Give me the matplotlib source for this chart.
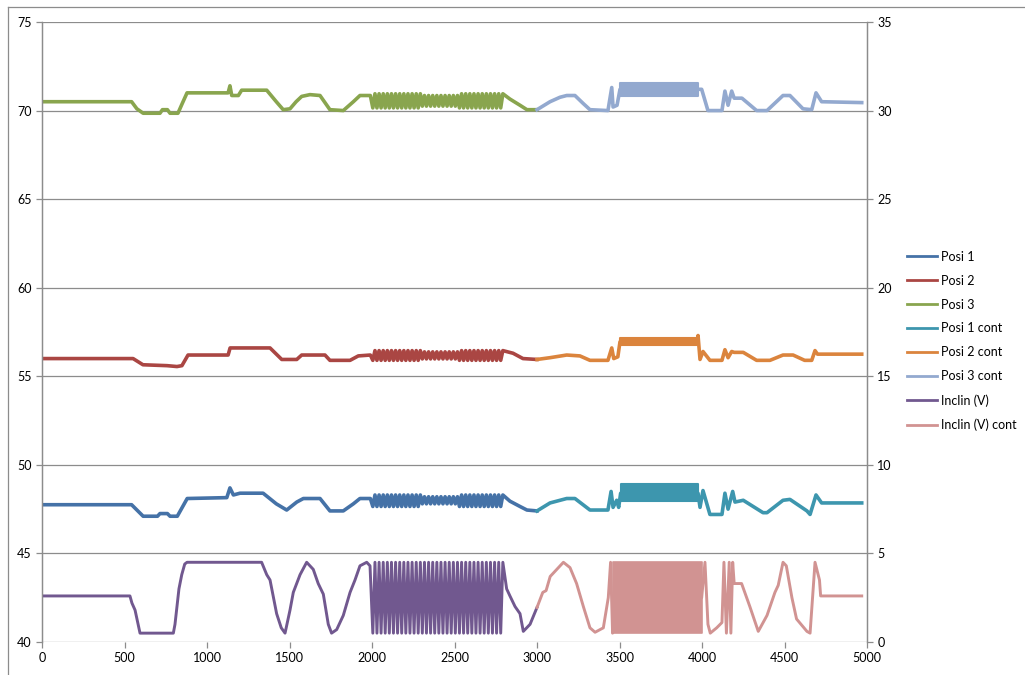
import matplotlib
matplotlib.use('Agg')
import matplotlib.pyplot as plt
from matplotlib.lines import Line2D

plt.rcParams['font.family'] = ['Lato', 'DejaVu Sans']

# ---- shared oscillation section (2000-2800) ----
osc_trough_x = [2005, 2030, 2055, 2080, 2105, 2130, 2155, 2180, 2205, 2230, 2255,
                2280, 2305, 2330, 2355, 2380, 2405, 2430, 2455, 2480, 2505, 2530,
                2555, 2580, 2605, 2630, 2655, 2680, 2705, 2730, 2755, 2780]
osc_peak_x = [2018, 2043, 2068, 2093, 2118, 2143, 2168, 2193, 2218, 2243, 2268,
              2293, 2318, 2343, 2368, 2393, 2418, 2443, 2468, 2493, 2518, 2543,
              2568, 2593, 2618, 2643, 2668, 2693, 2718, 2743, 2768, 2793]
# 1 = the smaller swings in the middle of the section
osc_small = [0, 0, 0, 0, 0, 0, 0, 0, 0, 0, 0, 0, 1, 1, 1, 1, 1, 1, 1, 1, 1, 0,
             0, 0, 0, 0, 0, 0, 0, 0, 0, 0]

# (full lo, full hi, small lo, small hi)
posi1_osc = (47.65, 48.3, 47.8, 48.2)
posi2_osc = (55.9, 56.45, 55.98, 56.38)
posi3_osc = (70.15, 70.95, 70.25, 70.85)
inclin_osc = (0.5, 4.5, 0.5, 4.5)

# ---- Posi 1 ----
posi1_pre_x = [0, 543, 613, 700, 715, 760, 776, 820, 850, 880, 1120, 1139, 1160, 1200,
               1340, 1420, 1483, 1544, 1584, 1685, 1745, 1826, 1887, 1927, 1990]
posi1_pre_y = [47.75, 47.75, 47.1, 47.1, 47.25, 47.25, 47.1, 47.1, 47.6, 48.1, 48.15, 48.7,
               48.3, 48.4, 48.4, 47.8, 47.45, 47.9, 48.1, 48.1, 47.4, 47.4, 47.8, 48.1, 48.1]
posi1_post_x = [2836, 2897, 2939, 3000]
posi1_post_y = [47.95, 47.65, 47.45, 47.4]
posi1c_x = [3000, 3079, 3180, 3230, 3321, 3430, 3449, 3461, 3483, 3495, 3507, 3976, 3988,
            4006, 4048, 4121, 4139, 4158, 4186, 4200, 4250, 4370, 4394, 4491, 4533, 4636,
            4655, 4691, 4725, 4968]
posi1c_y = [47.4, 47.85, 48.1, 48.1, 47.45, 47.45, 48.5, 47.6, 48.0, 47.6, 48.4, 48.4, 47.6,
            48.55, 47.2, 47.2, 48.4, 47.5, 48.5, 47.9, 48.0, 47.3, 47.3, 48.0, 48.05, 47.4,
            47.2, 48.3, 47.85, 47.85]
posi1c_band = (3507, 3976, 47.95, 48.9)

# ---- Posi 2 ----
posi2_pre_x = [0, 552, 612, 758, 818, 848, 885, 1128, 1140, 1382, 1453, 1544, 1574, 1715,
               1745, 1867, 1917, 1990]
posi2_pre_y = [56.0, 56.0, 55.65, 55.6, 55.55, 55.6, 56.2, 56.2, 56.6, 56.6, 55.95, 55.95,
               56.2, 56.2, 55.9, 55.9, 56.15, 56.2]
posi2_post_x = [2855, 2915, 3000]
posi2_post_y = [56.3, 56.0, 55.95]
posi2c_x = [3000, 3079, 3180, 3260, 3321, 3430, 3453, 3465, 3490, 3503, 3970, 3976, 3988,
            4006, 4048, 4121, 4139, 4158, 4180, 4195, 4250, 4331, 4412, 4491, 4552, 4622,
            4665, 4685, 4700, 4968]
posi2c_y = [55.95, 56.05, 56.2, 56.15, 55.9, 55.9, 56.6, 56.0, 56.1, 56.95, 56.95, 57.3,
            55.95, 56.4, 55.9, 55.9, 56.5, 56.05, 56.4, 56.35, 56.35, 55.9, 55.9, 56.2,
            56.2, 55.9, 55.9, 56.45, 56.25, 56.25]
posi2c_band = (3503, 3970, 56.75, 57.15)

# ---- Posi 3 ----
posi3_pre_x = [0, 543, 575, 613, 715, 730, 760, 776, 824, 850, 879, 1128, 1139, 1150, 1190,
               1210, 1362, 1420, 1462, 1503, 1540, 1574, 1624, 1685, 1745, 1826, 1887, 1927,
               1990]
posi3_pre_y = [70.5, 70.5, 70.1, 69.85, 69.85, 70.05, 70.05, 69.85, 69.85, 70.4, 71.0, 71.0,
               71.4, 70.85, 70.85, 71.15, 71.15, 70.5, 70.05, 70.1, 70.5, 70.8, 70.9, 70.85,
               70.05, 70.0, 70.5, 70.85, 70.85]
posi3_post_x = [2836, 2897, 2939, 3000]
posi3_post_y = [70.65, 70.3, 70.05, 70.05]
posi3c_x = [3000, 3079, 3139, 3180, 3230, 3280, 3321, 3430, 3453, 3461, 3485, 3503, 3976,
            3998, 4036, 4121, 4139, 4158, 4180, 4195, 4242, 4331, 4394, 4491, 4533, 4612,
            4665, 4691, 4725, 4968]
posi3c_y = [70.05, 70.5, 70.75, 70.85, 70.85, 70.4, 70.05, 70.0, 71.3, 70.2, 70.3, 71.2,
            71.2, 71.2, 70.0, 70.0, 71.1, 70.3, 71.1, 70.7, 70.7, 70.0, 70.0, 70.85, 70.85,
            70.1, 70.05, 71.0, 70.5, 70.45]
posi3c_band = (3503, 3976, 70.8, 71.55)

# ---- Inclin (V), right axis ----
inclin_pre_x = [0, 533, 545, 564, 594, 796, 806, 830, 847, 865, 879, 1331, 1362, 1382, 1422,
                1450, 1473, 1503, 1523, 1564, 1604, 1644, 1674, 1705, 1735, 1755, 1786, 1826,
                1867, 1897, 1927, 1968, 1988]
inclin_pre_y = [2.6, 2.6, 2.2, 1.8, 0.5, 0.5, 1.0, 3.0, 3.8, 4.4, 4.5, 4.5, 3.8, 3.5, 1.6,
                0.8, 0.5, 1.8, 2.8, 3.8, 4.5, 4.1, 3.3, 2.7, 1.0, 0.5, 0.7, 1.5, 2.8, 3.5,
                4.3, 4.5, 4.3]
inclin_post_x = [2816, 2836, 2867, 2897, 2917, 2958, 3000]
inclin_post_y = [3.0, 2.6, 2.0, 1.6, 0.6, 1.0, 1.95]
inclinc_x = [3000, 3035, 3055, 3080, 3120, 3160, 3200, 3240, 3281, 3321, 3352, 3402, 3432,
             3446, 3458, 3463, 3998, 4018, 4036, 4050, 4089, 4121, 4133, 4148, 4165, 4175,
             4186, 4195, 4240, 4290, 4341, 4394, 4442, 4462, 4491, 4511, 4545, 4573, 4636,
             4655, 4685, 4712, 4719, 4968]
inclinc_y = [1.95, 2.8, 2.9, 3.7, 4.1, 4.5, 4.2, 3.3, 2.0, 0.8, 0.55, 0.8, 2.5, 4.5, 0.5,
             2.5, 2.5, 4.5, 1.0, 0.5, 0.8, 1.1, 4.5, 0.5, 4.5, 0.5, 4.5, 3.3, 3.3, 2.0, 0.6,
             1.5, 2.8, 3.2, 4.5, 4.3, 2.5, 1.3, 0.6, 0.5, 4.5, 3.5, 2.6, 2.6]
inclinc_band = (3463, 3998, 0.5, 4.5)

labels = ['Posi 1', 'Posi 2', 'Posi 3', 'Posi 1 cont', 'Posi 2 cont', 'Posi 3 cont',
          'Inclin (V)', 'Inclin (V) cont']
colors = ['#4572A7', '#AA4643', '#89A54E', '#3D96AE', '#DB843D', '#93A9CF',
          '#71588F', '#D19392']


def with_osc(pre_x, pre_y, post_x, post_y, osc):
    xs, ys = list(pre_x), list(pre_y)
    for tx, px, small in zip(osc_trough_x, osc_peak_x, osc_small):
        lo, hi = (osc[2], osc[3]) if small else (osc[0], osc[1])
        xs += [tx, px]
        ys += [lo, hi]
    return xs + post_x, ys + post_y


fig = plt.figure(figsize=(10.25, 6.75), dpi=100)
ax = fig.add_axes([42 / 1025, 33 / 675, 825 / 1025, 620 / 675])
ax2 = ax.twinx()

grid_c = '#8c8c8c'
lw = 2.6

first = [(posi1_pre_x, posi1_pre_y, posi1_post_x, posi1_post_y, posi1_osc),
         (posi2_pre_x, posi2_pre_y, posi2_post_x, posi2_post_y, posi2_osc),
         (posi3_pre_x, posi3_pre_y, posi3_post_x, posi3_post_y, posi3_osc)]
for i, (px_, py_, qx, qy, osc) in enumerate(first):
    x, y = with_osc(px_, py_, qx, qy, osc)
    ax.plot(x, y, color=colors[i], lw=lw, solid_joinstyle='round')

conts = [(posi1c_x, posi1c_y, posi1c_band), (posi2c_x, posi2c_y, posi2c_band),
         (posi3c_x, posi3c_y, posi3c_band)]
for i, (x, y, band) in enumerate(conts):
    c = colors[3 + i]
    ax.plot(x, y, color=c, lw=lw, solid_joinstyle='round')
    ax.fill_between([band[0], band[1]], band[2], band[3], color=c, lw=1.5, edgecolor=c)

x, y = with_osc(inclin_pre_x, inclin_pre_y, inclin_post_x, inclin_post_y, inclin_osc)
ax2.plot(x, y, color=colors[6], lw=2.1, solid_joinstyle='round')
ax2.plot(inclinc_x, inclinc_y, color=colors[7], lw=2.1, solid_joinstyle='round')
ax2.fill_between([inclinc_band[0], inclinc_band[1]], inclinc_band[2], inclinc_band[3],
                 color=colors[7], lw=1.2, edgecolor=colors[7])

ax.set_xlim(0, 5000)
ax.set_ylim(40, 75)
ax2.set_ylim(0, 35)
ax.set_xticks(range(0, 5001, 500))
ax.set_yticks(range(40, 76, 5))
ax2.set_yticks(range(0, 36, 5))
ax.yaxis.grid(True, color=grid_c, lw=0.9)
ax.set_axisbelow(True)

for a in (ax, ax2):
    for s in a.spines.values():
        s.set_color(grid_c)
        s.set_linewidth(0.9)
    a.spines['top'].set_visible(False)
    a.spines['bottom'].set_visible(False)
    a.tick_params(colors='black', labelsize=9, length=4, width=0.9)
    a.tick_params(axis='both', color=grid_c)

handles = [Line2D([], [], color=c, lw=2.0) for c in colors]
fig.legend(handles, labels, loc='center left', bbox_to_anchor=(0.885, 0.495),
           frameon=False, fontsize=9, handlelength=2.4, handletextpad=0.3,
           labelspacing=0.95, borderpad=0, borderaxespad=0)

# outer chart frame
fig.add_artist(Line2D([8 / 1025, 1], [1 - 7 / 675, 1 - 7 / 675], color=grid_c, lw=0.9))
fig.add_artist(Line2D([8 / 1025, 8 / 1025], [0, 1 - 7 / 675], color=grid_c, lw=0.9))

fig.savefig('out.png', dpi=100)
